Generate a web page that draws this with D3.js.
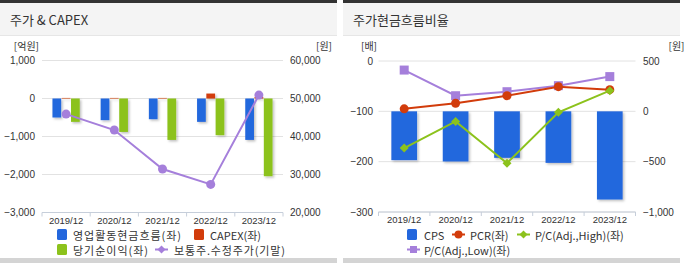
<!DOCTYPE html>
<html><head><meta charset="utf-8">
<script src="https://cdn.jsdelivr.net/npm/d3@7"></script>
<style>
body{margin:0;background:#fff;font-family:"Noto Sans CJK KR","Noto Sans",sans-serif;}
svg text{font-family:"Noto Sans CJK KR","Noto Sans",sans-serif;}
svg text.num{font-family:"Liberation Sans","Noto Sans",sans-serif;}
</style></head><body>
<svg id="c" width="686" height="263"></svg>
<script>
const years = ["2019/12","2020/12","2021/12","2022/12","2023/12"];
// Left chart: 주가 & CAPEX
const opCashFlow = [-500,-570,-545,-615,-1090];
const capex = [15,15,15,130,40];
const netIncome = [-615,-880,-1090,-965,-2045];
const adjPrice = [45900,41700,31450,27400,50900];
const leftTicksL = [1000,0,-1000,-2000,-3000];
const leftTicksR = [60000,50000,40000,30000,20000];
// Right chart: 주가현금흐름비율
const cps = [-485,-498,-462,-512,-876];
const pcr = [-95,-84,-69,-51,-57];
const pcHigh = [-173,-120,-203,-102,-59];
const pcLow = [-18,-69,-61,-49,-31];
const rightTicksL = [0,-100,-200,-300];
const rightTicksR = [500,0,-500,-1000];

const C = {blue:"#2467dd", red:"#d23c0b", green:"#8cc21c", purple:"#a57fdb", grid:"#e2e2e2", axis:"#c6ceda", text:"#333"};
const svg = d3.select("#c");
const fmt = d3.format(",");

const defs = svg.append("defs");
const f = defs.append("filter").attr("id","sh").attr("x","-20%").attr("y","-20%").attr("width","160%").attr("height","160%");
f.append("feDropShadow").attr("dx",1.5).attr("dy",1.5).attr("stdDeviation",0.8).attr("flood-color","#000").attr("flood-opacity",0.25);

function panel(x0, w, title){
  const g = svg.append("g");
  g.append("rect").attr("x",x0).attr("y",0).attr("width",w).attr("height",3).attr("fill","#333");
  g.append("rect").attr("x",x0).attr("y",3).attr("width",w).attr("height",32).attr("fill","#f4f4f4");
  g.append("rect").attr("x",x0).attr("y",35).attr("width",w).attr("height",1).attr("fill","#e6e6e6");
  g.append("rect").attr("x",x0).attr("y",258).attr("width",w).attr("height",5).attr("fill","#d4d4d4");
  g.append("text").attr("x",x0+10).attr("y",24.5).attr("font-size",13).attr("fill",C.text).text(title);
}
panel(0,337,"주가 & CAPEX");
panel(343,337,"주가현금흐름비율");

function axes(x, yL, yR, ticksL, ticksR, unitL, unitR, lx, rx, xL, xR){
  const g = svg.append("g");
  ticksL.forEach(t=>{
    g.append("line").attr("x1",xL).attr("x2",xR).attr("y1",yL(t)).attr("y2",yL(t)).attr("stroke",C.grid);
    g.append("text").attr("class","num").attr("x",lx).attr("y",yL(t)+3.5).attr("text-anchor","end").attr("font-size",10).attr("fill",C.text).text(fmt(t));
  });
  ticksR.forEach(t=>{
    g.append("text").attr("class","num").attr("x",rx).attr("y",yR(t)+3.5).attr("text-anchor","start").attr("font-size",10).attr("fill",C.text).text(fmt(t));
  });
  g.append("text").attr("x",lx+4).attr("y",yL(ticksL[0])-11).attr("text-anchor","end").attr("font-size",10).attr("fill",C.text).text(unitL);
  g.append("text").attr("x",xR+49).attr("y",yL(ticksL[0])-11).attr("text-anchor","end").attr("font-size",10).attr("fill",C.text).text(unitR);
  const yb = yL(ticksL[ticksL.length-1]);
  g.append("line").attr("x1",xL).attr("x2",xR).attr("y1",yb).attr("y2",yb).attr("stroke",C.axis);
  const bounds = [xL].concat(x.domain().map(d=>x(d)+x.step()));
  bounds.forEach(b=>g.append("line").attr("x1",b).attr("x2",b).attr("y1",yb).attr("y2",yb+4).attr("stroke",C.axis));
  x.domain().forEach(d=>g.append("text").attr("class","num").attr("x",x(d)+x.bandwidth()/2).attr("y",yb+11).attr("text-anchor","middle").attr("font-size",9.5).attr("fill",C.text).text(d));
}

// ---------- Left chart ----------
{
  const xL=42, xR=283;
  const x = d3.scaleBand().domain(years).range([xL,xR]).padding(0);
  const yL = d3.scaleLinear().domain([-3000,1000]).range([212.5,60.5]);
  const yR = d3.scaleLinear().domain([20000,60000]).range([212.5,60.5]);
  axes(x,yL,yR,leftTicksL,leftTicksR,"[억원]","[원]",35,290,xL,xR);
  const sub = d3.scaleBand().domain(["op","capex","ni"]).range([-14.2,14.2]).padding(0.06);
  const series = [["op",opCashFlow,C.blue],["capex",capex,C.red],["ni",netIncome,C.green]];
  const gb = svg.append("g").attr("filter","url(#sh)");
  series.forEach(([k,vals,col])=>{
    gb.selectAll(null).data(vals).enter().append("rect")
      .attr("x",(d,i)=>x(years[i])+x.bandwidth()/2+sub(k))
      .attr("width",sub.bandwidth())
      .attr("y",d=>Math.min(yL(d),yL(0)))
      .attr("height",d=>Math.abs(yL(d)-yL(0)))
      .attr("fill",col);
  });
  const line = d3.line().x((d,i)=>x(years[i])+x.bandwidth()/2).y(d=>yR(d));
  svg.append("path").datum(adjPrice).attr("d",line).attr("fill","none").attr("stroke",C.purple).attr("stroke-width",2);
  svg.selectAll(null).data(adjPrice).enter().append("circle")
    .attr("cx",(d,i)=>x(years[i])+x.bandwidth()/2).attr("cy",d=>yR(d)).attr("r",4.5).attr("fill",C.purple);
  // legend
  const lg = svg.append("g").attr("font-size",11).attr("fill",C.text);
  lg.append("rect").attr("x",57).attr("y",229).attr("width",10).attr("height",11).attr("rx",1.5).attr("fill",C.blue);
  lg.append("text").attr("x",73).attr("y",239.5).attr("textLength",108).attr("lengthAdjust","spacing").text("영업활동현금흐름(좌)");
  lg.append("rect").attr("x",194).attr("y",229).attr("width",10).attr("height",11).attr("rx",1.5).attr("fill",C.red);
  lg.append("text").attr("x",210).attr("y",239.5).text("CAPEX(좌)");
  lg.append("rect").attr("x",57).attr("y",244).attr("width",10).attr("height",11).attr("rx",1.5).attr("fill",C.green);
  lg.append("text").attr("x",73).attr("y",255).attr("textLength",75).attr("lengthAdjust","spacing").text("당기순이익(좌)");
  lg.append("line").attr("x1",155).attr("x2",168).attr("y1",249.5).attr("y2",249.5).attr("stroke",C.purple).attr("stroke-width",2);
  lg.append("path").attr("d","M161.5,245.5 L165.5,249.5 L161.5,253.5 L157.5,249.5 Z").attr("fill",C.purple);
  lg.append("text").attr("x",174).attr("y",255).attr("textLength",111).attr("lengthAdjust","spacing").text("보통주.수정주가(기말)");
}

// ---------- Right chart ----------
{
  const xL=378.5, xR=635.5;
  const x = d3.scaleBand().domain(years).range([xL,xR]).padding(0);
  const yL = d3.scaleLinear().domain([-300,0]).range([212,61]);
  const yR = d3.scaleLinear().domain([-1000,500]).range([212,61]);
  axes(x,yL,yR,rightTicksL,rightTicksR,"[배]","[원]",373,643,xL,xR);
  const bw = x.bandwidth()*0.5;
  svg.append("g").attr("filter","url(#sh)").selectAll(null).data(cps).enter().append("rect")
    .attr("x",(d,i)=>x(years[i])+x.bandwidth()/2-bw/2).attr("width",bw)
    .attr("y",d=>Math.min(yR(d),yR(0))).attr("height",d=>Math.abs(yR(d)-yR(0)))
    .attr("fill",C.blue);
  const cx = (d,i)=>x(years[i])+x.bandwidth()/2;
  const line = d3.line().x(cx).y(d=>yL(d));
  svg.append("path").datum(pcLow).attr("d",line).attr("fill","none").attr("stroke",C.purple).attr("stroke-width",2);
  svg.selectAll(null).data(pcLow).enter().append("rect")
    .attr("x",(d,i)=>cx(d,i)-4.5).attr("y",d=>yL(d)-4.5).attr("width",9).attr("height",9).attr("fill",C.purple);
  svg.append("path").datum(pcr).attr("d",line).attr("fill","none").attr("stroke",C.red).attr("stroke-width",2);
  svg.selectAll(null).data(pcr).enter().append("circle")
    .attr("cx",cx).attr("cy",d=>yL(d)).attr("r",4.5).attr("fill",C.red);
  svg.append("path").datum(pcHigh).attr("d",line).attr("fill","none").attr("stroke",C.green).attr("stroke-width",2);
  svg.selectAll(null).data(pcHigh).enter().append("path")
    .attr("d",(d,i)=>{const px=cx(d,i),py=yL(d);return `M${px},${py-4.5}L${px+4.5},${py}L${px},${py+4.5}L${px-4.5},${py}Z`;})
    .attr("fill",C.green);
  // legend
  const lg = svg.append("g").attr("font-size",11).attr("fill",C.text);
  lg.append("rect").attr("x",407).attr("y",229).attr("width",10).attr("height",11).attr("rx",1.5).attr("fill",C.blue);
  lg.append("text").attr("x",424).attr("y",239.5).text("CPS");
  lg.append("line").attr("x1",452).attr("x2",465).attr("y1",234.5).attr("y2",234.5).attr("stroke",C.red).attr("stroke-width",2);
  lg.append("circle").attr("cx",458.5).attr("cy",234.5).attr("r",4).attr("fill",C.red);
  lg.append("text").attr("x",470).attr("y",239.5).text("PCR(좌)");
  lg.append("line").attr("x1",517).attr("x2",530).attr("y1",234.5).attr("y2",234.5).attr("stroke",C.green).attr("stroke-width",2);
  lg.append("path").attr("d","M523.5,230.5 L527.5,234.5 L523.5,238.5 L519.5,234.5 Z").attr("fill",C.green);
  lg.append("text").attr("x",535).attr("y",239.5).text("P/C(Adj.,High)(좌)");
  lg.append("line").attr("x1",407).attr("x2",420).attr("y1",249.5).attr("y2",249.5).attr("stroke",C.purple).attr("stroke-width",2);
  lg.append("rect").attr("x",410).attr("y",246).attr("width",7).attr("height",7).attr("fill",C.purple);
  lg.append("text").attr("x",424).attr("y",255).text("P/C(Adj.,Low)(좌)");
}
</script></body></html>
